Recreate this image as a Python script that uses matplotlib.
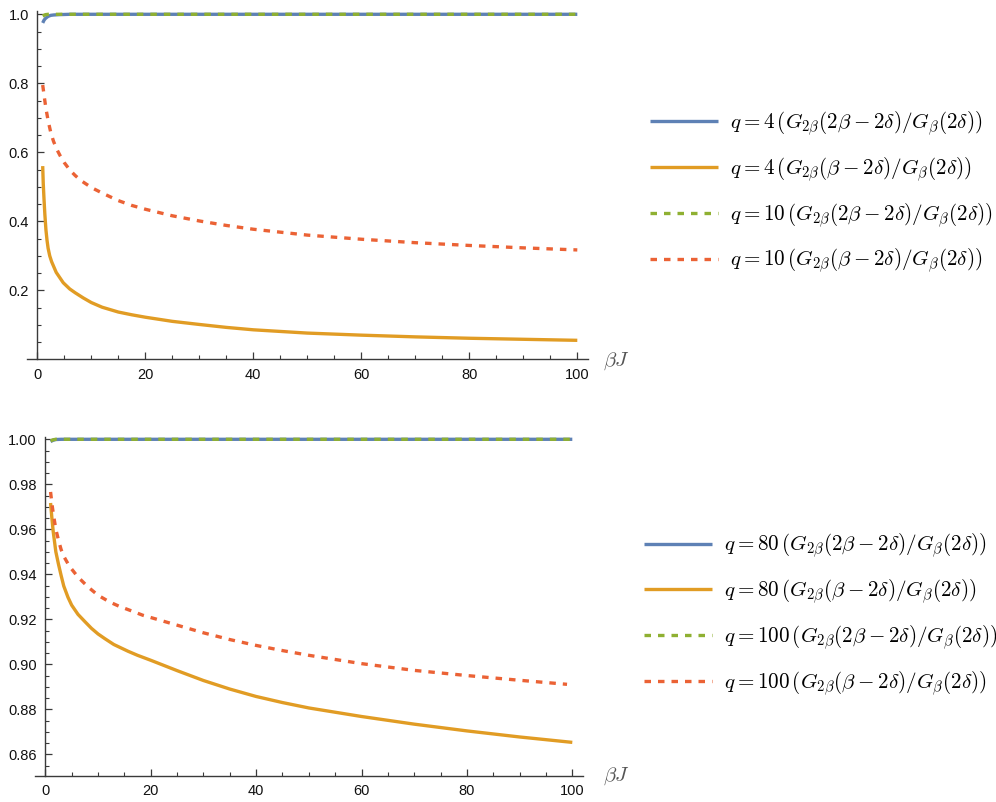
import matplotlib
matplotlib.use("Agg")
import matplotlib.pyplot as plt
from matplotlib.ticker import MultipleLocator, FixedLocator

plt.rcParams['font.family'] = ['Liberation Sans', 'DejaVu Sans']
plt.rcParams['mathtext.fontset'] = 'cm'

# ---- top panel: q = 4 and q = 10 ----
top_blue_x = [1, 1.25, 1.5, 2, 2.5, 3, 4, 6, 10, 20, 40, 60, 80, 100]
top_blue_y = [0.975, 0.983, 0.988, 0.994, 0.997, 0.998, 0.999, 1.0, 1.0, 1.0, 1.0, 1.0, 1.0, 1.0]

top_orange_x = [1, 1.1, 1.25, 1.4, 1.6, 1.8, 2, 2.3, 2.65, 3.5, 4.8, 6, 7, 8.5, 10, 12, 15,
                17.5, 20, 25, 30, 35, 40, 50, 60, 70, 80, 90, 100]
top_orange_y = [0.56, 0.51, 0.462, 0.42, 0.375, 0.345, 0.322, 0.30, 0.283, 0.252, 0.222,
                0.204, 0.193, 0.178, 0.1645, 0.151, 0.137, 0.129, 0.122, 0.110, 0.101, 0.0925,
                0.0855, 0.076, 0.070, 0.065, 0.061, 0.058, 0.055]

top_green_x = [1, 1.5, 2, 3, 10, 20, 40, 60, 80, 100]
top_green_y = [0.995, 0.999, 1.0, 1.0, 1.0, 1.0, 1.0, 1.0, 1.0, 1.0]

top_red_x = [1, 1.3, 1.6, 2, 2.5, 3, 3.6, 4.2, 5, 6, 7, 8, 10, 12, 15, 17.5, 20, 25, 30, 35,
             40, 50, 60, 70, 80, 90, 100]
top_red_y = [0.795, 0.76, 0.727, 0.692, 0.657, 0.632, 0.609, 0.591, 0.570, 0.549, 0.533, 0.519,
             0.498, 0.482, 0.460, 0.446, 0.435, 0.416, 0.401, 0.388, 0.377, 0.360, 0.348,
             0.338, 0.330, 0.323, 0.317]

top_labels = [
    r'$q=4\,(G_{2\beta}(2\beta-2\delta)/G_{\beta}(2\delta))$',
    r'$q=4\,(G_{2\beta}(\beta-2\delta)/G_{\beta}(2\delta))$',
    r'$q=10\,(G_{2\beta}(2\beta-2\delta)/G_{\beta}(2\delta))$',
    r'$q=10\,(G_{2\beta}(\beta-2\delta)/G_{\beta}(2\delta))$',
]

# ---- bottom panel: q = 80 and q = 100 ----
bot_blue_x = [1, 1.5, 2, 3, 10, 20, 40, 60, 80, 100]
bot_blue_y = [0.9990, 0.9996, 0.9999, 1.0, 1.0, 1.0, 1.0, 1.0, 1.0, 1.0]

bot_orange_x = [1, 1.25, 1.5, 2, 2.5, 3, 3.5, 4.3, 5, 6.2, 7.5, 8.75, 10, 11.3, 13, 15.7, 17.5,
                20, 25, 30, 35, 40, 45, 50, 60, 70, 80, 90, 100]
bot_orange_y = [0.9717, 0.965, 0.959, 0.950, 0.9445, 0.9395, 0.9348, 0.9298, 0.9263, 0.9222,
                0.919, 0.916, 0.9135, 0.9114, 0.9088, 0.9058, 0.904, 0.9018, 0.8972, 0.8928,
                0.889, 0.8857, 0.883, 0.8806, 0.8768, 0.8734, 0.8704, 0.8677, 0.8653]

bot_green_x = [1, 1.5, 2, 3, 10, 20, 40, 60, 80, 100]
bot_green_y = [0.9993, 0.9998, 1.0, 1.0, 1.0, 1.0, 1.0, 1.0, 1.0, 1.0]

bot_red_x = [1, 1.25, 1.5, 2, 2.5, 3, 3.5, 4.6, 6.2, 8.1, 10, 12.2, 14, 16.4, 18.5, 20, 25, 30,
             35, 40, 45, 50, 60, 70, 80, 90, 99]
bot_red_y = [0.9766, 0.9715, 0.9672, 0.960, 0.9552, 0.951, 0.948, 0.9435, 0.9388, 0.9344,
             0.9307, 0.9277, 0.9258, 0.9237, 0.9218, 0.9208, 0.9174, 0.914, 0.911, 0.9084,
             0.9061, 0.904, 0.9003, 0.8973, 0.895, 0.8929, 0.8911]

bot_labels = [
    r'$q=80\,(G_{2\beta}(2\beta-2\delta)/G_{\beta}(2\delta))$',
    r'$q=80\,(G_{2\beta}(\beta-2\delta)/G_{\beta}(2\delta))$',
    r'$q=100\,(G_{2\beta}(2\beta-2\delta)/G_{\beta}(2\delta))$',
    r'$q=100\,(G_{2\beta}(\beta-2\delta)/G_{\beta}(2\delta))$',
]

x_ticks = [0, 20, 40, 60, 80, 100]

BLUE = '#5E81B5'
ORANGE = '#E19C24'
GREEN = '#8FB032'
RED = '#EB6235'
AXIS = '#3a3a3a'
LW = 2.4
DASH = (0, (1.95, 2.1))


def style_axes(ax, y0, ylim, yticks, yminor):
    ax.set_xlim(-1.9, 102)
    ax.set_ylim(*ylim)
    for s in ['top', 'right']:
        ax.spines[s].set_visible(False)
    ax.spines['left'].set_position(('data', 0))
    ax.spines['bottom'].set_position(('data', y0))
    for s in ['left', 'bottom']:
        ax.spines[s].set_color(AXIS)
        ax.spines[s].set_linewidth(1.0)
    ax.xaxis.set_major_locator(FixedLocator(x_ticks))
    ax.xaxis.set_minor_locator(MultipleLocator(5))
    ax.yaxis.set_major_locator(FixedLocator(yticks))
    ax.yaxis.set_minor_locator(FixedLocator(yminor))
    ax.tick_params(which='major', direction='in', length=5, width=0.9, color=AXIS,
                   labelsize=10.5, labelcolor='#111111', pad=6)
    ax.tick_params(which='minor', direction='in', length=3, width=0.8, color=AXIS)
    ax.set_yticklabels(['%.2f' % v if len(yticks) > 5 else '%.1f' % v for v in yticks])
    ax.patch.set_visible(False)


def draw_panel(ax, series, labels, legend_center_y, legend_x):
    styles = [(BLUE, '-'), (ORANGE, '-'), (GREEN, DASH), (RED, DASH)]
    handles = []
    for (xs, ys), (c, ls), lab in zip(series, styles, labels):
        h, = ax.plot(xs, ys, color=c, linestyle=ls, lw=LW, label=lab,
                     solid_capstyle='butt', dash_capstyle='butt', clip_on=False)
        handles.append(h)
    fig.legend(handles=handles, labels=labels, loc='center left',
               bbox_to_anchor=(legend_x / 996, 1 - legend_center_y / 802),
               frameon=False, fontsize=15.2, handlelength=3.2, handletextpad=0.6,
               labelspacing=0.82, borderpad=0, borderaxespad=0)


fig = plt.figure(figsize=(9.96, 8.02), dpi=100)

# top axes: 0 -> px 37.3, 5.4 px per unit, y: 0 at 359.3, 345 px per unit
ax1 = fig.add_axes([(37.3 - 1.9 * 5.4) / 996, (802 - 359.3) / 802,
                    103.9 * 5.4 / 996, 1.01 * 345 / 802])
draw_panel(ax1,
           [(top_blue_x, top_blue_y), (top_orange_x, top_orange_y),
            (top_green_x, top_green_y), (top_red_x, top_red_y)],
           top_labels, 192.5, 650)
style_axes(ax1, 0.0, (0.0, 1.01), [0.2, 0.4, 0.6, 0.8, 1.0],
           [0.05, 0.1, 0.15, 0.25, 0.3, 0.35, 0.45, 0.5, 0.55, 0.65, 0.7, 0.75, 0.85, 0.9, 0.95])

# bottom axes: 0 -> px 45.3, 5.27 px per unit, y: 1.00 at 439.3, 2250 px per unit
ylo, yhi = 0.8504, 1.001
ax2 = fig.add_axes([(45.3 - 1.9 * 5.27) / 996, (802 - (439.3 + (1.0 - ylo) * 2250)) / 802,
                    103.9 * 5.27 / 996, (yhi - ylo) * 2250 / 802])
draw_panel(ax2,
           [(bot_blue_x, bot_blue_y), (bot_orange_x, bot_orange_y),
            (bot_green_x, bot_green_y), (bot_red_x, bot_red_y)],
           bot_labels, 614.8, 644)
bot_ticks = [0.86, 0.88, 0.90, 0.92, 0.94, 0.96, 0.98, 1.00]
bot_minor = [round(0.855 + 0.005 * i, 3) for i in range(30) if round(0.855 + 0.005 * i, 3) not in bot_ticks]
style_axes(ax2, ylo, (ylo, yhi), bot_ticks, bot_minor)

fig.text(603 / 996, 1 - 361 / 802, r'$\beta J$', fontsize=15, color='#555555', va='center')
fig.text(603 / 996, 1 - 776 / 802, r'$\beta J$', fontsize=15, color='#555555', va='center')

fig.savefig('out.png', dpi=100)
